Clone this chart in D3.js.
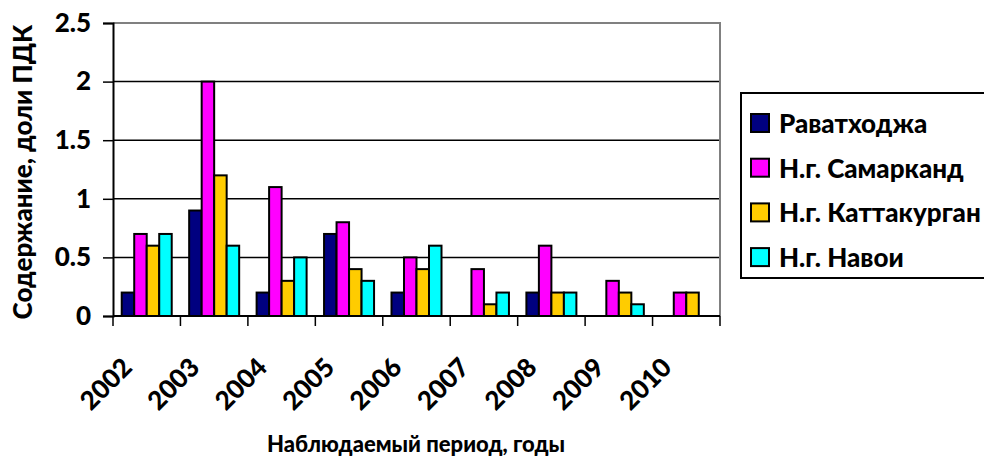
<!DOCTYPE html>
<html>
<head>
<meta charset="utf-8">
<script src="https://cdn.jsdelivr.net/npm/d3@7"></script>
<style>
  html, body { margin: 0; padding: 0; background: #fff; }
  svg { display: block; font-family: Lato, "Open Sans", "DejaVu Sans", sans-serif; font-weight: 900; }
</style>
</head>
<body>
<svg id="chart" width="984" height="456"></svg>
<script>
// Observation years
const years = ["2002", "2003", "2004", "2005", "2006", "2007", "2008", "2009", "2010"];

// Series names (monitoring points)
const seriesNames = ["Раватходжа", "Н.г. Самарканд", "Н.г. Каттакурган", "Н.г. Навои"];

// Concentration, fractions of MPC (null = no value)
const ravatkhodzha = [0.2, 0.9, 0.2, 0.7, 0.2, null, 0.2, null, null];
const samarkand    = [0.7, 2.0, 1.1, 0.8, 0.5, 0.4, 0.6, 0.3, 0.2];
const kattakurgan  = [0.6, 1.2, 0.3, 0.4, 0.4, 0.1, 0.2, 0.2, 0.2];
const navoi        = [0.7, 0.6, 0.5, 0.3, 0.6, 0.2, 0.2, 0.1, null];

const yTicks = [0, 0.5, 1, 1.5, 2, 2.5];
const seriesColors = ["#000080", "#FF00FF", "#FFCC00", "#00FFFF"];

const seriesValues = [ravatkhodzha, samarkand, kattakurgan, navoi];
const rows = years.map((yr, i) => ({
  year: yr,
  values: seriesNames.map((name, s) => ({ name, s, v: seriesValues[s][i] }))
}));

const svg = d3.select("#chart");
const plot = { left: 113, right: 720, top: 23, bottom: 316 };

const x0 = d3.scaleBand().domain(years).range([plot.left, plot.right])
  .paddingInner(0.2586).paddingOuter(0.1293);
const x1 = d3.scaleBand().domain(d3.range(seriesNames.length)).range([0, x0.bandwidth()]);
const y = d3.scaleLinear().domain([0, 2.5]).range([plot.bottom, plot.top]);

// Horizontal gridlines
svg.append("g").selectAll("line")
  .data(yTicks.filter(t => t > 0 && t < 2.5))
  .join("line")
  .attr("x1", plot.left).attr("x2", plot.right)
  .attr("y1", d => y(d)).attr("y2", d => y(d))
  .attr("stroke", "#000").attr("stroke-width", 1.5);

// Plot area frame (top and right)
svg.append("path")
  .attr("d", `M${plot.left},${y(2.5)}H${plot.right}V${plot.bottom}`)
  .attr("fill", "none").attr("stroke", "#808080").attr("stroke-width", 2);

// Bars
const groups = svg.append("g").selectAll("g")
  .data(rows).join("g")
  .attr("transform", d => `translate(${x0(d.year)},0)`);

groups.selectAll("rect")
  .data(d => d.values.filter(v => v.v != null))
  .join("rect")
  .attr("x", d => x1(d.s))
  .attr("width", x1.bandwidth())
  .attr("y", d => y(d.v))
  .attr("height", d => y(0) - y(d.v))
  .attr("fill", d => seriesColors[d.s])
  .attr("stroke", "#000").attr("stroke-width", 2);

// Y axis
const yAxis = svg.append("g")
  .attr("transform", `translate(${plot.left},0)`)
  .call(d3.axisLeft(y).tickValues(yTicks).tickSize(10).tickPadding(12)
    .tickFormat(d => String(d)));
yAxis.select(".domain").attr("stroke", "#000").attr("stroke-width", 2);
yAxis.selectAll(".tick line").attr("stroke", "#000").attr("stroke-width", 1.5);
yAxis.selectAll(".tick text")
  .attr("fill", "#000").attr("font-size", 26).attr("font-weight", 900)
  .attr("font-family", "Lato, sans-serif");

// X axis: ticks at category boundaries
const boundaries = years.map(yr => x0(yr) - x0.step() * x0.paddingOuter())
  .concat([plot.right]);
svg.append("line")
  .attr("x1", plot.left).attr("x2", plot.right)
  .attr("y1", plot.bottom).attr("y2", plot.bottom)
  .attr("stroke", "#000").attr("stroke-width", 2);
svg.append("g").selectAll("line")
  .data(boundaries).join("line")
  .attr("x1", d => d).attr("x2", d => d)
  .attr("y1", plot.bottom).attr("y2", plot.bottom + 10)
  .attr("stroke", "#000").attr("stroke-width", 1.5);

// Rotated year labels
svg.append("g").selectAll("text")
  .data(years).join("text")
  .attr("transform", d => `translate(${x0(d) + x0.bandwidth() / 2 - 13},369) rotate(-45)`)
  .attr("text-anchor", "end")
  .attr("font-size", 26)
  .attr("fill", "#000")
  .text(d => d);

// Axis titles
svg.append("text")
  .attr("transform", "translate(22,172) rotate(-90)")
  .attr("text-anchor", "middle")
  .attr("dominant-baseline", "central")
  .attr("font-size", 26)
  .text("Содержание, доли ПДК");

svg.append("text")
  .attr("x", 416).attr("y", 452)
  .attr("text-anchor", "middle")
  .attr("font-size", 22)
  .text("Наблюдаемый период, годы");

// Legend
const legend = svg.append("g").attr("transform", "translate(741,93)");
legend.append("rect")
  .attr("width", 270).attr("height", 185)
  .attr("fill", "#fff").attr("stroke", "#000").attr("stroke-width", 2);
const items = legend.selectAll("g.item")
  .data(seriesNames).join("g")
  .attr("class", "item")
  .attr("transform", (d, i) => `translate(10,${30 + i * 44.7})`);
items.append("rect")
  .attr("x", 0).attr("y", -9).attr("width", 18).attr("height", 18)
  .attr("fill", (d, i) => seriesColors[i])
  .attr("stroke", "#000").attr("stroke-width", 2);
items.append("text")
  .attr("x", 28).attr("dominant-baseline", "central")
  .attr("font-size", 26)
  .text(d => d);
</script>
</body>
</html>
